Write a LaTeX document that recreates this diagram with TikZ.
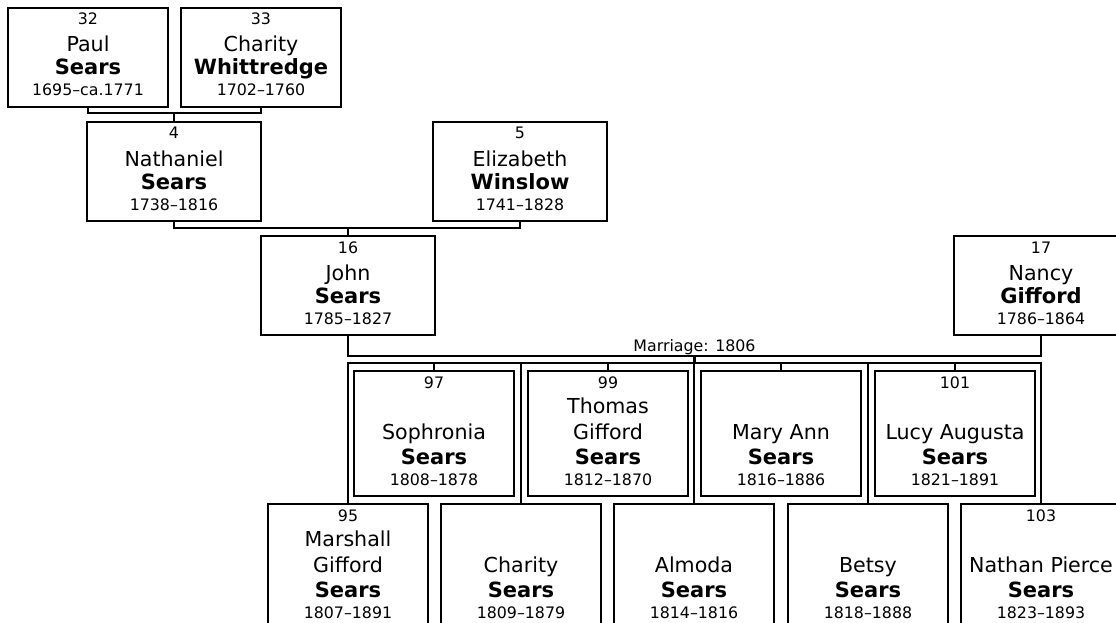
\documentclass[tikz,border=0pt]{standalone}
\usepackage{fontspec}
\setmainfont{DejaVu Sans}
\tikzset{
  pbox/.style={draw, line width=2.4pt, inner sep=0pt, outer sep=0pt, anchor=north},
  conn/.style={line width=2.4pt},
  smalltxt/.style={font=\fontsize{15.8}{18}\selectfont, anchor=base, inner sep=0pt},
  nametxt/.style={font=\fontsize{20.6}{24}\selectfont, anchor=base, inner sep=0pt},
  surtxt/.style={font=\fontsize{21}{24}\selectfont\bfseries, anchor=base, inner sep=0pt},
}
% #1 name, #2 centre x, #3 top y, #4 width, #5 number, #6 given, #7 surname, #8 dates
\newcommand\fourbox[8]{%
  \node[pbox, minimum width=#4pt, minimum height=99pt] (#1) at (#2,#3) {};
  \node[smalltxt] (#1n) at ([yshift=-17pt]#1.north) {#5};
  \node[nametxt]  (#1g) at ([yshift=-44pt]#1.north) {#6};
  \node[surtxt]   (#1s) at ([yshift=-67pt]#1.north) {#7};
  \node[smalltxt] (#1d) at ([yshift=-88pt]#1.north) {#8};
}
% #1 name, #2 centre x, #3 top y, #4 number, #5 given 1, #6 given 2, #7 surname, #8 dates
\newcommand\fivebox[8]{%
  \node[pbox, minimum width=160pt, minimum height=125pt] (#1) at (#2,#3) {};
  \node[smalltxt] (#1n) at ([yshift=-17pt]#1.north) {#4};
  \node[nametxt]  (#1g) at ([yshift=-42pt]#1.north) {#5};
  \node[nametxt]  (#1h) at ([yshift=-68pt]#1.north) {#6};
  \node[surtxt]   (#1s) at ([yshift=-93pt]#1.north) {#7};
  \node[smalltxt] (#1d) at ([yshift=-114pt]#1.north) {#8};
}
\begin{document}
\begin{tikzpicture}[x=1pt,y=-1pt]
\useasboundingbox (0,0) rectangle (1116,623);
\clip (0,0) rectangle (1116,623);

\fourbox{b32}{88}{8}{160}{32}{Paul}{Sears}{1695–ca.1771}
\fourbox{b33}{261}{8}{160}{33}{Charity}{Whittredge}{1702–1760}
\fourbox{b4}{174}{122}{174}{4}{Nathaniel}{Sears}{1738–1816}
\fourbox{b5}{520}{122}{174}{5}{Elizabeth}{Winslow}{1741–1828}
\fourbox{b16}{348}{236}{174}{16}{John}{Sears}{1785–1827}
\fourbox{b17}{1041}{236}{174}{17}{Nancy}{Gifford}{1786–1864}

\fivebox{b97}{434}{371}{97}{}{Sophronia}{Sears}{1808–1878}
\fivebox{b99}{608}{371}{99}{Thomas}{Gifford}{Sears}{1812–1870}
\fivebox{bma}{781}{371}{}{}{Mary Ann}{Sears}{1816–1886}
\fivebox{b101}{955}{371}{101}{}{Lucy Augusta}{Sears}{1821–1891}

\fivebox{b95}{348}{504}{95}{Marshall}{Gifford}{Sears}{1807–1891}
\fivebox{bch}{521}{504}{}{}{Charity}{Sears}{1809–1879}
\fivebox{bal}{694}{504}{}{}{Almoda}{Sears}{1814–1816}
\fivebox{bbe}{868}{504}{}{}{Betsy}{Sears}{1818–1888}
\fivebox{b103}{1041}{504}{103}{}{Nathan Pierce}{Sears}{1823–1893}

\coordinate (m1) at ([yshift=9pt]b4.north);
\draw[conn] (b32.south) |- (m1) -| (b33.south);
\draw[conn] (m1) -- (b4.north);

\coordinate (m2) at ([yshift=8pt]b16.north);
\draw[conn] (b4.south) |- (m2) -| (b5.south);
\draw[conn] (m2) -- (b16.north);

\coordinate (m3) at (694.5,356);
\draw[conn] (b16.south) |- (m3) -| (b17.south);
\node[smalltxt] (mlabel) at (694.5,351) {Marriage: 1806};

\coordinate (m4) at (694.5,363);
\draw[conn] (m3) -- (m4);
\draw[conn] (b95.north) -- (b95.north |- m4) -- (b103.north |- m4) -- (b103.north);
\foreach \c in {bch,bal,bbe,b97,b99,bma,b101}
  \draw[conn] (\c.north) -- (\c.north |- m4);
\end{tikzpicture}
\end{document}
